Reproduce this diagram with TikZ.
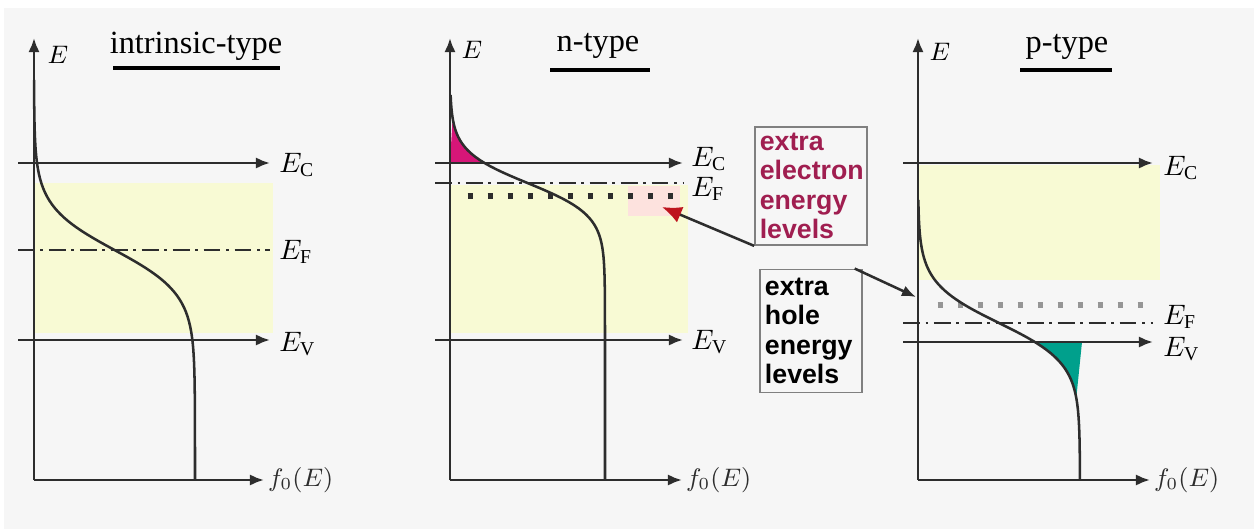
\documentclass[tikz,border=0pt]{standalone}
\usepackage{fontspec}
\setmainfont{Liberation Serif}
\newfontfamily\boxfont{Liberation Sans}
\usepackage{tikz}
\usetikzlibrary{arrows.meta,calc,positioning}
\definecolor{PaperGray}{RGB}{246,246,246}
\definecolor{GapYellow}{RGB}{248,250,212}
\definecolor{LineGray}{RGB}{45,45,45}
\definecolor{ElecPink}{RGB}{214,22,120}
\definecolor{ElecText}{RGB}{160,30,80}
\definecolor{HoleTeal}{RGB}{0,160,140}
\definecolor{DonorPink}{RGB}{253,226,222}
\definecolor{DonorRed}{RGB}{190,20,30}
\definecolor{AccGray}{RGB}{150,150,150}

\begin{document}
\begin{tikzpicture}[x=0.0125cm,y=-0.0125cm,>={Latex[length=5pt,width=4pt]},
  bandline/.style={LineGray,line width=0.9pt},
  fdcurve/.style={LineGray,line width=0.9pt},
  elabel/.style={font=\fontsize{10}{12}\selectfont,inner sep=1pt,anchor=west},
  flabel/.style={font=\fontsize{9}{11}\selectfont,inner sep=1pt},
  typelab/.style={font=\fontsize{11.5}{14}\selectfont},
  infobox/.style={draw=gray,line width=0.6pt,align=left,
    font=\boxfont\bfseries\fontsize{9.5}{10.4}\selectfont}]
  \fill[white] (0,0) rectangle (1254,529);
  \fill[PaperGray] (4,8) rectangle (1254,529);
  \useasboundingbox (0,0) rectangle (1254,529);

  % intrinsic
  \fill[GapYellow] (34,183) rectangle (273,333);
  \draw[bandline,->] (18,163) -- (270,163);
  \draw[bandline,->] (18,340) -- (270,340);
  \draw[bandline,dash pattern=on 6pt off 2pt on 1pt off 2pt] (18,250) -- (270,250);
  \node[elabel] (eci) at (276,165) {$E_{\mathrm{C}}$};
  \node[elabel] (efi) at (276,252) {$E_{\mathrm{F}}$};
  \node[elabel] (evi) at (276,344) {$E_{\mathrm{V}}$};
  \draw[fdcurve] plot[domain=80:480,samples=120] ({34+161/(1+exp((250-\x)/22))},\x);
  \draw[bandline,->] (34,480) -- (34,38);
  \draw[bandline,->] (34,480) -- (264,480) node[flabel,right] (fi) {$f_0(E)$};
  \node[flabel] (ei) at (58,55) {$E$};
  \node[typelab] (ti) at (196,46) {intrinsic-type};
  \draw[line width=1.3pt] (113,68) -- (280,68);

  % n-type
  \fill[GapYellow] (450,185) rectangle (688,333);
  \fill[DonorPink] (628,186) rectangle (680,216);
  \fill[ElecPink] (450,163) -- plot[domain=163:118,samples=30]
    ({450+155/(1+exp((183-\x)/16))},\x) -- cycle;
  \draw[bandline,->] (435,163) -- (683,163);
  \draw[bandline,->] (435,340) -- (683,340);
  \draw[bandline,dash pattern=on 6pt off 2pt on 1pt off 2pt] (435,183) -- (683,183);
  \foreach \x in {470,490,...,670}
    \draw[LineGray,line width=1.8pt] (\x-2.5,196) -- (\x+2.5,196);
  \node[elabel] (ecn) at (688,159) {$E_{\mathrm{C}}$};
  \node[elabel] (efn) at (688,189) {$E_{\mathrm{F}}$};
  \node[elabel] (evn) at (688,342) {$E_{\mathrm{V}}$};
  \draw[fdcurve] plot[domain=95:480,samples=120] ({450+155/(1+exp((183-\x)/16))},\x);
  \draw[bandline,->] (450,480) -- (450,38);
  \draw[bandline,->] (450,480) -- (682,480) node[flabel,right] (fn) {$f_0(E)$};
  \node[flabel] (en) at (472,50) {$E$};
  \node[typelab] (tn) at (598,46) {n-type};
  \draw[line width=1.3pt] (550,70) -- (650,70);

  % p-type
  \fill[GapYellow] (918,165) rectangle (1160,280);
  \fill[HoleTeal] (1082,342) -- plot[domain=342:398,samples=30]
    ({918+162/(1+exp((323-\x)/20))},\x) -- cycle;
  \draw[bandline,->] (903,163) -- (1153,163);
  \draw[bandline,->] (903,342) -- (1153,342);
  \draw[bandline,dash pattern=on 6pt off 2pt on 1pt off 2pt] (903,323) -- (1153,323);
  \foreach \x in {940,960,...,1140}
    \draw[AccGray,line width=1.8pt] (\x-2.5,305) -- (\x+2.5,305);
  \node[elabel] (ecp) at (1160,168) {$E_{\mathrm{C}}$};
  \node[elabel] (efp) at (1160,317) {$E_{\mathrm{F}}$};
  \node[elabel] (evp) at (1160,349) {$E_{\mathrm{V}}$};
  \draw[fdcurve] plot[domain=200:480,samples=120] ({918+162/(1+exp((323-\x)/20))},\x);
  \draw[bandline,->] (918,480) -- (918,38);
  \draw[bandline,->] (918,480) -- (1150,480) node[flabel,right] (fp) {$f_0(E)$};
  \node[flabel] (ep) at (940,52) {$E$};
  \node[typelab] (tp) at (1067,47) {p-type};
  \draw[line width=1.3pt] (1020,70) -- (1112,70);

  % boxes
  \node[infobox,text=ElecText,text width=1.28cm,inner xsep=0.06cm,inner ysep=0.04cm,
    minimum height=1.475cm] (elbox) at (811,186) {extra\\electron\\energy\\levels};
  \node[infobox,text=black,text width=1.15cm,inner xsep=0.06cm,inner ysep=0.04cm,
    minimum height=1.54cm] (hobox) at (811,331) {extra\\hole\\energy\\levels};
  \coordinate (edonor) at (662,207);
  \coordinate (hacc) at (916,297);
  \draw[LineGray,line width=0.9pt,-{Latex[length=7pt,width=6pt,color=DonorRed]}]
    (elbox.south west) -- (edonor);
  \draw[LineGray,line width=0.9pt,->] ([xshift=-1mm]hobox.north east) -- (hacc);
\end{tikzpicture}
\end{document}
